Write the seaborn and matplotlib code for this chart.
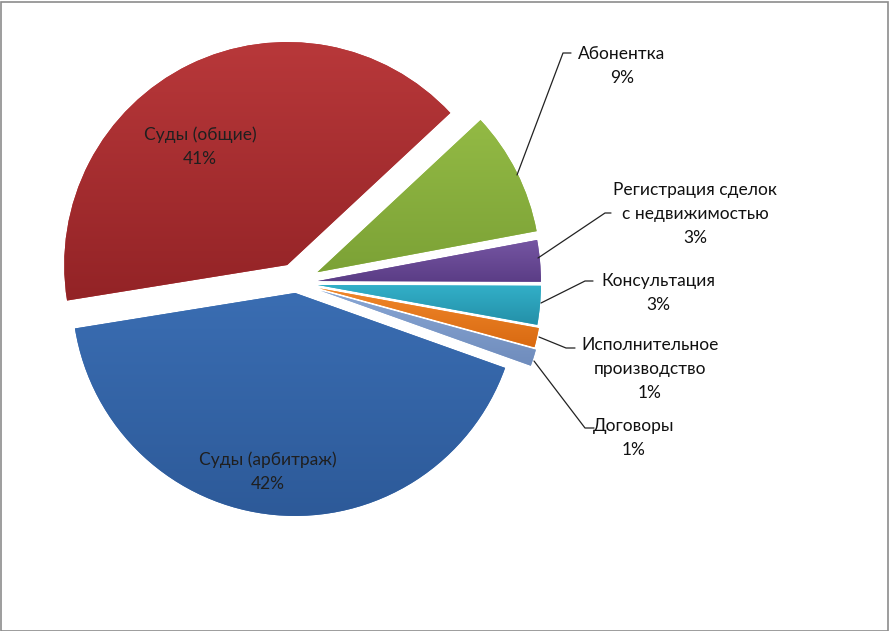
import numpy as np
import matplotlib
matplotlib.use("Agg")
import matplotlib.pyplot as plt
import matplotlib.colors as mcolors
import seaborn as sns

# ---- data ----
categories = ["Абонентка", "Регистрация сделок\nс недвижимостью", "Консультация",
              "Исполнительное\nпроизводство", "Договоры", "Суды (арбитраж)", "Суды (общие)"]
values = [9.0, 3.0, 2.8, 1.4, 1.2, 42.0, 40.6]
top_colors = ["#93BA45", "#7555A2", "#32AFC8", "#F0872A", "#88A6D4", "#3A6DB2", "#B8383A"]
bot_colors = ["#7CA236", "#5B3D86", "#2490A8", "#D96A12", "#6F8CBC", "#2D5A99", "#932326"]

sns.set_style("white")
plt.rcParams['font.family'] = ['Lato', 'DejaVu Sans']

W, H = 889, 631
fig = plt.figure(figsize=(W / 100, H / 100), dpi=100)
ax = fig.add_axes([0, 0, 1, 1])

def Y(y):
    return H - y

R = 223
center = (296, Y(283))
explode_px = [24, 22, 22, 24, 26, 10, 20]

wedges, _ = ax.pie(values, startangle=43, counterclock=False, explode=explode_px,
                   radius=R, center=center, colors=top_colors,
                   wedgeprops=dict(linewidth=0))

# vertical gradient inside each wedge
for w, ct, cb in zip(wedges, top_colors, bot_colors):
    bb = w.get_path().get_extents(w.get_transform())
    inv = ax.transData.inverted()
    (x0, y0), (x1, y1) = inv.transform([[bb.x0, bb.y0], [bb.x1, bb.y1]])
    c1 = np.array(mcolors.to_rgb(ct))
    c2 = np.array(mcolors.to_rgb(cb))
    t = np.linspace(0, 1, 128)[:, None]
    grad = (c1 * (1 - t) + c2 * t)[:, None, :]
    im = ax.imshow(grad, extent=(x0, x1, y0, y1), origin="upper",
                   aspect="auto", interpolation="bilinear", zorder=w.get_zorder() + 0.1)
    im.set_clip_path(w)

ax.set_xlim(0, W)
ax.set_ylim(0, H)
ax.set_aspect("auto")
ax.axis("off")

pct = [f"{int(round(v))}%" for v in values]

# inner labels
inner = {6: (200, 147), 5: (268, 472)}
for i, (x, y) in inner.items():
    ax.text(x, Y(y), f"{categories[i]}\n{pct[i]}", ha="center", va="center",
            fontsize=12.5, color="#1f1f1f", linespacing=1.6, zorder=10)

# outer labels with leader lines
outer = [
    (0, (622, 66), [(517, 175), (563, 53), (571, 53)]),
    (1, (695, 214), [(538, 258), (605, 213), (611, 213)]),
    (2, (658, 293), [(541, 303), (585, 281), (593, 281)]),
    (3, (650, 369), [(539, 337), (566, 348), (575, 348)]),
    (4, (634, 438), [(534, 361), (585, 428), (594, 428)]),
]
for i, (tx, ty), pts in outer:
    ax.text(tx, Y(ty), f"{categories[i]}\n{pct[i]}", ha="center", va="center",
            fontsize=12.5, color="#111111", linespacing=1.6, zorder=10)
    xs = [p[0] for p in pts]
    ys = [Y(p[1]) for p in pts]
    ax.plot(xs, ys, color="#222222", lw=0.9, zorder=9)

# chart frame
fig.patches.append(plt.Rectangle((0.5 / W, 0.5 / H), 1 - 2 / W, 1 - 2 / H,
                                 transform=fig.transFigure, fill=False,
                                 edgecolor="#8c8c8c", lw=1.2))

fig.savefig("out.png", dpi=100)
